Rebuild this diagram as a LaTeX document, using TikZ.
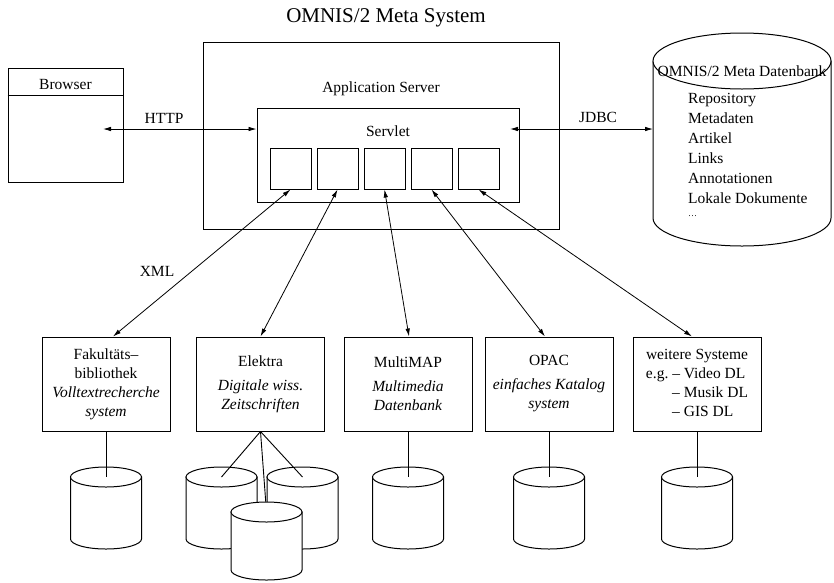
\documentclass[tikz,border=0pt]{standalone}
\usepackage{fontspec}
\setmainfont{Liberation Serif}
\usetikzlibrary{arrows.meta,calc}
\newcommand\dbcyl[6]{% name, cx, ytop, rx, ry, side height
  \filldraw[cyl] ({#2-#4},#3) -- ({#2-#4},{#3+#6})
    arc[start angle=180,end angle=360,x radius=#4pt,y radius=#5pt]
    -- ({#2+#4},#3) -- cycle;
  \filldraw[cyl] (#2,#3) ellipse[x radius=#4pt,y radius=#5pt];
  \coordinate (#1) at (#2,#3);
}
\begin{document}
\begin{tikzpicture}[x=1pt,y=-1pt,
  box/.style={draw,line width=1pt,inner sep=0pt,fill=white,
    font=\fontsize{15.5}{19}\selectfont,align=center},
  txt/.style={font=\fontsize{15.5}{19}\selectfont,inner sep=0pt},
  lnk/.style={line width=0.8pt,{Latex[length=8pt,width=4.5pt]}-{Latex[length=8pt,width=4.5pt]}},
  cyl/.style={line width=1pt,fill=white},
  conn/.style={line width=0.9pt}]
\useasboundingbox (0,0) rectangle (834,582);

% title
\node[txt,font=\fontsize{21}{25}\selectfont,anchor=base] (title) at (386,22) {OMNIS/2 Meta System};

% browser
\node[box,minimum width=115pt,minimum height=114pt] (browser) at (65.5,125) {};
\coordinate (hdr) at (0,95);
\draw[line width=1pt] (browser.west |- hdr) -- (browser.east |- hdr);
\node[txt,anchor=base] (browsertxt) at (65.5,89) {Browser};

% application server and servlet
\node[box,minimum width=356pt,minimum height=187pt] (app) at (381,135.5) {};
\node[txt,anchor=base] (apptxt) at (381,92) {Application Server};
\node[box,minimum width=262pt,minimum height=94pt] (servlet) at (388,155) {};
\node[txt,anchor=base] (servlettxt) at (388,136) {Servlet};
\foreach \i in {1,...,5}
  \node[box,minimum width=41pt,minimum height=41pt] (s\i) at ({290.5+47*(\i-1)},168.5) {};

% database cylinder
\dbcyl{db}{742}{61}{89}{28}{157}
\node[txt,anchor=base] (dbtitle) at (742,76) {OMNIS/2 Meta Datenbank};
\foreach \t [count=\i] in {Repository,Metadaten,Artikel,Links,Annotationen,Lokale Dokumente}
  \node[txt,anchor=base west] (dbl\i) at (688,{83+20*\i}) {\t};
\node[txt,anchor=base west] (dbdots) at (688,216) {\small\dots};

% HTTP / JDBC
\coordinate (httpL) at (103,129);
\draw[lnk] (httpL) -- (servlet.west |- httpL);
\node[txt,anchor=base] (http) at (164,123) {HTTP};
\coordinate (jdbcL) at (510,129);
\coordinate (dbside) at (653,129);
\draw[lnk] (jdbcL) -- (dbside);
\node[txt,anchor=base] (jdbc) at (598,122) {JDBC};

% bottom systems
\node[box,minimum width=128pt,minimum height=94pt] (b1) at (106,384)
  {Fakultäts\textendash\\bibliothek\\\textit{Volltextrecherche}\\\textit{system}};
\node[box,minimum width=128pt,minimum height=94pt] (b2) at (260.5,384)
  {Elektra\\[5pt]\textit{Digitale wiss.}\\\textit{Zeitschriften}};
\node[box,minimum width=128pt,minimum height=94pt] (b3) at (408,384)
  {MultiMAP\\[5pt]\textit{Multimedia}\\\textit{Datenbank}};
\node[box,minimum width=128pt,minimum height=94pt] (b4) at (549,384)
  {OPAC\\[5pt]\textit{einfaches Katalog}\\\textit{system}};
\node[box,minimum width=128pt,minimum height=94pt] (b5) at (697,384)
  {\begin{tabular}{@{}r@{\ }l@{}}\multicolumn{2}{@{}c@{}}{weitere Systeme}\\
   e.g. & \textendash\ Video DL\\ & \textendash\ Musik DL\\ & \textendash\ GIS DL\end{tabular}};

% XML links
\draw[lnk] (s1.south) -- ($(b1.north)+(7,0)$);
\draw[lnk] (s2.south) -- (b2.north);
\draw[lnk] (s3.south) -- ($(b3.north)+(1,0)$);
\draw[lnk] (s4.south) -- ($(b4.north)+(-4,0)$);
\draw[lnk] (s5.south) -- ($(b5.north)+(-5,0)$);
\node[txt,anchor=base] (xml) at (157,276) {XML};

% local databases
\dbcyl{c1}{106}{477}{35.5}{10}{62}
\draw[conn] (b1.south) -- (c1);
\dbcyl{c2a}{221.5}{477}{35.5}{10}{62}
\dbcyl{c2b}{302.5}{477}{35.5}{10}{62}
\draw[conn] (b2.south) -- (c2a);
\draw[conn] (b2.south) -- (c2b);
\coordinate (c2c) at (266.5,512);
\draw[conn] (b2.south) -- (c2c);
\dbcyl{c2c}{266.5}{512}{35.5}{10}{58}
\dbcyl{c3}{408}{477}{35.5}{10}{62}
\draw[conn] (b3.south) -- (c3);
\dbcyl{c4}{549}{477}{35.5}{10}{62}
\draw[conn] (b4.south) -- (c4);
\dbcyl{c5}{697}{477}{35.5}{10}{62}
\draw[conn] (b5.south) -- (c5);
\end{tikzpicture}
\end{document}
